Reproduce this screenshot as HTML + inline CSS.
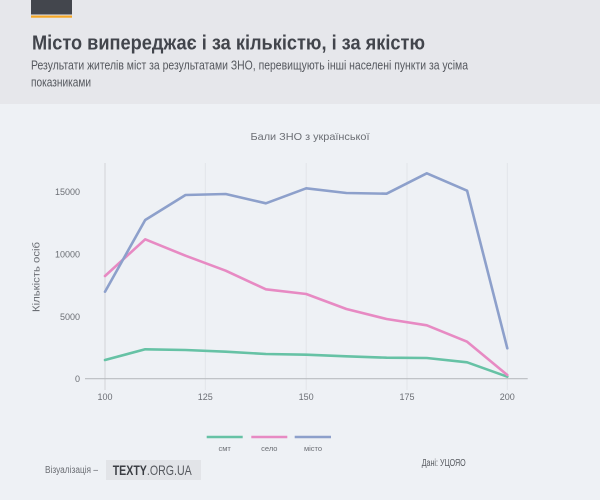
<!DOCTYPE html>
<html><head><meta charset="utf-8"><style>
html,body{margin:0;padding:0;width:600px;height:500px;overflow:hidden;background:#eef1f5;}
svg{display:block;}
text{font-family:"Liberation Sans","DejaVu Sans",sans-serif;}
</style></head><body>
<svg width="600" height="500" viewBox="0 0 600 500" xmlns="http://www.w3.org/2000/svg">
<rect x="0" y="0" width="600" height="500" fill="#eef1f5"/>
<rect x="0" y="0" width="600" height="104" fill="#e6e7eb"/>
<rect x="31" y="0" width="41" height="14.5" fill="#43464d"/>
<rect x="31" y="15.5" width="41" height="2.2" fill="#f5a623"/>
<text x="32" y="49.5" font-size="20" font-weight="bold" fill="#42454c" textLength="393" lengthAdjust="spacingAndGlyphs">Місто випереджає і за кількістю, і за якістю</text>
<text x="31" y="69.5" font-size="12.5" fill="#55585e" textLength="437" lengthAdjust="spacingAndGlyphs">Результати жителів міст за результатами ЗНО, перевищують інші населені пункти за усіма</text>
<text x="31" y="86.5" font-size="12.5" fill="#55585e" textLength="60" lengthAdjust="spacingAndGlyphs">показниками</text>

<text x="310" y="140" font-size="10.5" fill="#6b6e74" text-anchor="middle" textLength="119" lengthAdjust="spacingAndGlyphs">Бали ЗНО з української</text>

<!-- gridlines -->
<g stroke="#e2e5e9" stroke-width="1">
<line x1="205.3" y1="163" x2="205.3" y2="390"/>
<line x1="306.2" y1="163" x2="306.2" y2="390"/>
<line x1="407" y1="163" x2="407" y2="390"/>
<line x1="507.3" y1="163" x2="507.3" y2="390"/>
</g>
<line x1="105" y1="163" x2="105" y2="390" stroke="#d6d9dd" stroke-width="1.2"/>
<line x1="85" y1="378.7" x2="527.7" y2="378.7" stroke="#b9bcc0" stroke-width="1.2"/>

<!-- y tick labels -->
<g font-size="9" fill="#6b6e74" text-anchor="end">
<text x="80" y="195">15000</text>
<text x="80" y="257.3">10000</text>
<text x="80" y="319.8">5000</text>
<text x="80" y="382">0</text>
</g>
<!-- x tick labels -->
<g font-size="9" fill="#6b6e74" text-anchor="middle">
<text x="105" y="400">100</text>
<text x="205.3" y="400">125</text>
<text x="306.2" y="400">150</text>
<text x="407" y="400">175</text>
<text x="507.3" y="400">200</text>
</g>
<text transform="translate(39.5,277) rotate(-90)" font-size="10.5" fill="#6b6e74" text-anchor="middle" textLength="70" lengthAdjust="spacingAndGlyphs">Кількість осіб</text>

<!-- series -->
<g fill="none" stroke-width="2.6" stroke-linejoin="round" stroke-linecap="round">
<polyline stroke="#66c2a5" points="105,360 145.2,349.3 185.5,350 225.7,351.7 265.9,354 306.2,354.7 346.4,356.3 386.6,357.7 426.8,358 467.1,362.3 507.3,376.7"/>
<polyline stroke="#e78ac3" points="105,276 145.2,239.3 185.5,255.7 225.7,270.7 265.9,289.3 306.2,294 346.4,309 386.6,319 426.8,325.3 467.1,341.7 507.3,375"/>
<polyline stroke="#8da0cb" points="105,291.7 145.2,220 185.5,195 225.7,194 265.9,203.3 306.2,188.3 346.4,193 386.6,193.7 426.8,173.3 467.1,190.7 507.3,348.3"/>
</g>

<!-- legend -->
<g stroke-width="2.6">
<line x1="206.7" y1="437" x2="242.7" y2="437" stroke="#66c2a5"/>
<line x1="251.3" y1="437" x2="287.3" y2="437" stroke="#e78ac3"/>
<line x1="294.7" y1="437" x2="331" y2="437" stroke="#8da0cb"/>
</g>
<g font-size="7.5" fill="#6b6e74" text-anchor="middle">
<text x="224.7" y="451">смт</text>
<text x="269.3" y="451">село</text>
<text x="313" y="451">місто</text>
</g>

<!-- footer -->
<text x="45" y="473" font-size="10" fill="#6b6e74" textLength="53" lengthAdjust="spacingAndGlyphs">Візуалізація –</text>
<rect x="106" y="460" width="95" height="20" fill="#e2e4e8"/>
<text x="112.7" y="475" font-size="14" fill="#3a3d43" textLength="79" lengthAdjust="spacingAndGlyphs"><tspan font-weight="bold">TEXTY</tspan><tspan fill="#55585e">.ORG.UA</tspan></text>
<text x="421.7" y="466" font-size="10" fill="#55585e" textLength="44" lengthAdjust="spacingAndGlyphs">Дані: УЦОЯО</text>
</svg>
</body></html>
